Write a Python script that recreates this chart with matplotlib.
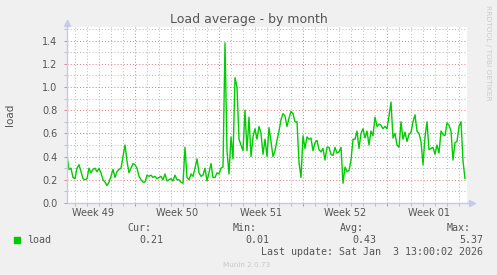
# Munin "Load average - by month" recreation
import numpy as np
import matplotlib
matplotlib.use("Agg")
import matplotlib.pyplot as plt
from matplotlib.patches import Rectangle

# -------------------------------------------------------
# DATA — 4-hourly load averages
# (series starts Mon Dec 1 2025 08:00)
# -------------------------------------------------------
load = [
    0.41, 0.29, 0.30, 0.22, 0.21, 0.30, 0.33, 0.27, 0.21, 0.20,
    0.21, 0.30, 0.26, 0.29, 0.30, 0.27, 0.30, 0.26, 0.20, 0.18,
    0.15, 0.18, 0.23, 0.29, 0.22, 0.27, 0.29, 0.30, 0.40, 0.50,
    0.36, 0.26, 0.30, 0.34, 0.33, 0.30, 0.23, 0.20, 0.18, 0.18,
    0.24, 0.23, 0.24, 0.22, 0.23, 0.21, 0.22, 0.23, 0.20, 0.25,
    0.19, 0.20, 0.21, 0.19, 0.24, 0.20, 0.20, 0.18, 0.17, 0.48,
    0.22, 0.20, 0.25, 0.23, 0.30, 0.38, 0.26, 0.23, 0.24, 0.30,
    0.19, 0.26, 0.34, 0.22, 0.22, 0.26, 0.25, 0.30, 0.31, 1.38,
    0.45, 0.25, 0.57, 0.38, 1.08, 1.00, 0.55, 0.50, 0.45, 0.80,
    0.45, 0.74, 0.40, 0.57, 0.64, 0.55, 0.66, 0.60, 0.42, 0.55,
    0.40, 0.65, 0.53, 0.40, 0.45, 0.54, 0.62, 0.72, 0.77, 0.75,
    0.66, 0.73, 0.79, 0.77, 0.70, 0.70, 0.35, 0.22, 0.58, 0.47,
    0.57, 0.55, 0.56, 0.45, 0.52, 0.54, 0.46, 0.44, 0.47, 0.37,
    0.48, 0.48, 0.42, 0.41, 0.48, 0.43, 0.44, 0.48, 0.17, 0.31,
    0.27, 0.28, 0.37, 0.55, 0.55, 0.62, 0.47, 0.60, 0.64, 0.56,
    0.62, 0.50, 0.62, 0.58, 0.74, 0.66, 0.68, 0.67, 0.64, 0.66,
    0.64, 0.75, 0.87, 0.56, 0.60, 0.50, 0.48, 0.70, 0.55, 0.61,
    0.53, 0.59, 0.61, 0.70, 0.76, 0.62, 0.60, 0.53, 0.33, 0.57,
    0.70, 0.46, 0.47, 0.48, 0.42, 0.50, 0.43, 0.62, 0.59, 0.58,
    0.69, 0.67, 0.62, 0.37, 0.52, 0.53, 0.66, 0.70, 0.36, 0.21,
]
SAMPLE_HOURS = 4
week_labels = ["Week 49", "Week 50", "Week 51", "Week 52", "Week 01"]
y_ticks = [0.0, 0.2, 0.4, 0.6, 0.8, 1.0, 1.2, 1.4]

stat_names = ["Cur:", "Min:", "Avg:", "Max:"]
stat_values = ["0.21", "0.01", "0.43", "5.37"]
last_update = "Last update: Sat Jan  3 13:00:02 2026"

# -------------------------------------------------------
# Layout / style
# -------------------------------------------------------
W, H = 497, 275
BG = "#F0F0F0"
TXT = "#555555"
GREEN = "#00CC00"
MINOR = "#BDBDBD"
MAJOR = "#E08585"
AXIS = "#C8C8EC"
MONO = "DejaVu Sans Mono"

FIRST_MIDNIGHT = 16 / 24.0   # first day boundary after the start (days)
FIRST_SUNDAY = 5 + FIRST_MIDNIGHT
SPAN_DAYS = 400 / 12.0


def fx(x):
    return x / W


def fy(y):
    return 1 - y / H


days = np.arange(len(load)) * SAMPLE_HOURS / 24.0

fig = plt.figure(figsize=(W / 100, H / 100), dpi=100, facecolor=BG)
ax = fig.add_axes([fx(67), 72 / H, 400 / W, 176 / H], facecolor="white")

ax.plot(days, load, color=GREEN, lw=1.0, zorder=3)

ax.set_xlim(0, SPAN_DAYS)
ax.set_ylim(0, 1.517)

week_lines = np.arange(FIRST_SUNDAY, SPAN_DAYS, 7)
day_lines = np.arange(FIRST_MIDNIGHT, SPAN_DAYS, 1)
ax.set_xticks(week_lines)
ax.set_xticks(day_lines, minor=True)
ax.set_xticklabels([])
ax.set_yticks(y_ticks)
ax.set_yticks(np.arange(0.1, 1.55, 0.2), minor=True)
ax.set_yticklabels(["%.1f" % v for v in y_ticks])

ax.grid(which="major", color=MAJOR, lw=0.75, linestyle=(0, (1, 2)))
ax.grid(which="minor", color=MINOR, lw=0.75, linestyle=(0, (1, 2)))
ax.set_axisbelow(True)

ax.tick_params(which="major", length=2, width=0.7, color=MAJOR,
               labelsize=7, labelcolor=TXT, pad=5)
ax.tick_params(which="minor", length=2, width=0.7, color=MINOR)

for side in ["top", "right"]:
    ax.spines[side].set_visible(False)
for side in ["left", "bottom"]:
    ax.spines[side].set_color(AXIS)
    ax.spines[side].set_linewidth(1.0)
    ax.spines[side].set_zorder(4)

# axis arrows (rrdtool style)
ax.plot([0, 0], [1.0, 1.02], color=AXIS, lw=1.0, transform=ax.transAxes, clip_on=False)
ax.plot([1.0, 1.012], [0, 0], color=AXIS, lw=1.0, transform=ax.transAxes, clip_on=False)
ax.plot([0], [1.025], marker="^", ms=4, color=AXIS, transform=ax.transAxes, clip_on=False)
ax.plot([1.013], [0], marker=">", ms=4, color=AXIS, transform=ax.transAxes, clip_on=False)

# week labels centred in each week
trans = ax.get_xaxis_transform()
for i, lab in enumerate(week_labels):
    ax.text(FIRST_SUNDAY - 3.5 + 7 * i, -13 / 176, lab, transform=trans,
            ha="center", va="baseline", fontsize=7, color=TXT)

# title, y label, watermark
fig.text(0.5, fy(23.5), "Load average - by month", ha="center", va="baseline",
         fontsize=9, color=TXT)
fig.text(fx(10), fy(115), "load", rotation=90, ha="center", va="center",
         fontsize=7.5, color=TXT)
fig.text(fx(488), fy(53), "RRDTOOL / TOBI OETIKER", rotation=270,
         ha="center", va="center", fontsize=5.4, color="#CCCCCC")

# legend block
fig.patches.append(Rectangle((fx(14), fy(243)), 6 / W, 6 / H,
                             transform=fig.transFigure, color=GREEN))
fig.text(fx(27), fy(243), "load", fontsize=7.2, family=MONO, color=TXT, va="baseline")
name_x = [127, 233, 340, 447]
for nx, name, val in zip(name_x, stat_names, stat_values):
    fig.text(fx(nx), fy(231), name, fontsize=7.2, family=MONO, color=TXT, va="baseline")
    fig.text(fx(nx + 12), fy(243), val, fontsize=7.2, family=MONO, color=TXT, va="baseline")
fig.text(fx(483), fy(255), last_update, fontsize=7.2, family=MONO, color=TXT,
         ha="right", va="baseline")
fig.text(fx(223), fy(267), "Munin 2.0.73", fontsize=5.2, color="#C8C8C8", va="baseline")

fig.savefig("out.png", dpi=100, facecolor=BG)
